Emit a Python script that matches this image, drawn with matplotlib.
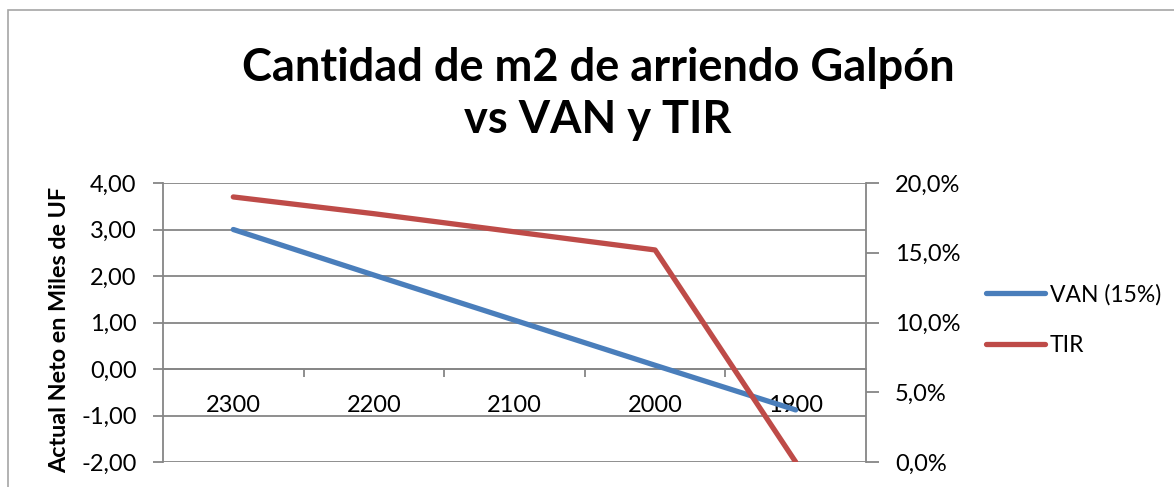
import matplotlib
matplotlib.use("Agg")
import matplotlib.pyplot as plt
from matplotlib.ticker import FuncFormatter, FixedLocator
from matplotlib.patches import Rectangle

categories = ["2300", "2200", "2100", "2000", "1900"]
van = [3.00, 2.02, 1.05, 0.08, -0.88]
tir = [0.190, 0.178, 0.165, 0.152, 0.000]

plt.rcParams['font.family'] = ['Lato', 'DejaVu Sans']
W, H = 1174, 487
fig = plt.figure(figsize=(W/100, H/100), dpi=100)

# outer chart border (partially visible)
fig.patches.append(Rectangle((8/W, -0.1), 1.2, 1 - 10/H + 0.1, transform=fig.transFigure,
                             fill=False, edgecolor='#a6a6a6', linewidth=1.2))

ax = fig.add_axes([163/W, 25/H, (866-163)/W, 279/H])
x = list(range(len(categories)))
grid_c = '#868686'

ax.set_xlim(-0.5, len(categories) - 0.5)
ax.set_ylim(-2, 4)
ax.set_yticks([-2, -1, 0, 1, 2, 3, 4])
ax.yaxis.set_major_formatter(FuncFormatter(lambda v, p: f"{v:.2f}".replace('.', ',')))
ax.grid(axis='y', color=grid_c, linewidth=1.3)
ax.set_axisbelow(True)
for s in ['top', 'right']:
    ax.spines[s].set_visible(False)
ax.spines['left'].set_color(grid_c)
ax.spines['left'].set_linewidth(1.3)
ax.spines['bottom'].set_position(('data', 0))
ax.spines['bottom'].set_color(grid_c)
ax.spines['bottom'].set_linewidth(1.3)
ax.tick_params(axis='y', colors=grid_c, labelcolor='black', labelsize=17, length=7, width=1.3, pad=12)

ax.xaxis.set_major_locator(FixedLocator([0.5, 1.5, 2.5, 3.5]))
ax.xaxis.set_major_formatter(FuncFormatter(lambda v, p: ''))
ax.xaxis.set_minor_locator(FixedLocator(x))
ax.set_xticks(x, categories, minor=True)
ax.tick_params(axis='x', which='major', colors=grid_c, length=6, width=1.3, direction='out')
ax.tick_params(axis='x', which='minor', length=0, labelsize=17, labelcolor='black', pad=19)

l1, = ax.plot(x, van, color='#4A7EBB', linewidth=3.8, solid_capstyle='round', label='VAN (15%)', zorder=3)

ax2 = ax.twinx()
ax2.set_ylim(0, 0.2)
ax2.set_yticks([0, 0.05, 0.10, 0.15, 0.20])
ax2.yaxis.set_major_formatter(FuncFormatter(lambda v, p: f"{v*100:.1f}%".replace('.', ',')))
for s in ['top', 'left', 'bottom']:
    ax2.spines[s].set_visible(False)
ax2.spines['right'].set_color(grid_c)
ax2.spines['right'].set_linewidth(1.3)
ax2.tick_params(axis='y', colors=grid_c, labelcolor='black', labelsize=17, length=9, width=1.3, pad=12)
l2, = ax2.plot(x, tir, color='#BE4B48', linewidth=3.8, solid_capstyle='round', label='TIR', zorder=3)

fig.legend(handles=[l1, l2], loc='center left', bbox_to_anchor=(965/W, 1 - 320/H),
           frameon=False, fontsize=16.5, handlelength=2.6, handletextpad=0.2, labelspacing=1.3)

fig.text(598/W, 1 - 94/H, "Cantidad de m2 de arriendo Galpón\nvs VAN y TIR", ha='center', va='center',
         fontsize=32.5, fontweight='bold', linespacing=1.3)

fig.text(60/W, 1 - 187/H, "Actual Neto en Miles de UF", rotation=90, ha='center', va='top',
         fontsize=16.8, fontweight='bold')

fig.savefig('out.png', dpi=100)
